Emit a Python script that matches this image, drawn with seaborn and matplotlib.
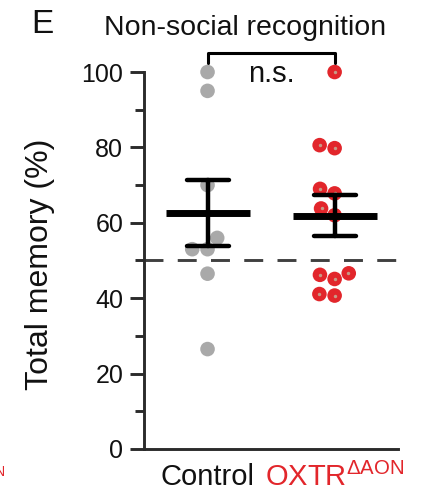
import numpy as np
import pandas as pd
import matplotlib
matplotlib.use("Agg")
import matplotlib.pyplot as plt
from matplotlib.ticker import MultipleLocator
import seaborn as sns

# Total memory (%) per animal
groups = ["Control", "OXTR"]
control_memory = [100, 95, 70, 56, 53, 53, 46.5, 26.5]
oxtr_memory = [100, 80.6, 79.8, 69, 67.8, 63.8, 62, 46.6, 46.2, 45.1, 41.1, 40.7]
tick_labels = ["Control", r"OXTR$^{\mathregular{\Delta AON}}$"]
y_ticks = [0, 20, 40, 60, 80, 100]
chance_level = 50

GRAY = "#a9a9a9"
RED = "#e2262b"
AXIS = "#2b2b2b"

df = pd.DataFrame({
    "group": [groups[0]] * len(control_memory) + [groups[1]] * len(oxtr_memory),
    "memory": control_memory + oxtr_memory,
})

sns.set_style("ticks")
plt.rcParams["font.family"] = ["Liberation Sans", "DejaVu Sans"]
plt.rcParams["mathtext.default"] = "regular"

fig = plt.figure(figsize=(4.39, 4.96), dpi=100)
ax = fig.add_axes([0.328, 0.0948, 0.579, 0.760])

# individual animals
sns.swarmplot(data=df, x="group", y="memory", hue="group",
              palette={groups[0]: GRAY, groups[1]: RED}, size=10.5,
              linewidth=0, legend=False, ax=ax, zorder=2, clip_on=False)

# light centre on the knockout dots
fig.canvas.draw()
red_dots = ax.collections[1]
cx, cy = red_dots.get_offsets().T
ax.scatter(cx, cy, s=6, color="#c79a86", linewidth=0, zorder=3, clip_on=False)

# mean +/- SEM
sns.pointplot(data=df, x="group", y="memory", errorbar="se", capsize=0.33,
              color="black", marker="_", markersize=60, markeredgewidth=5,
              linestyle="none", err_kws={"linewidth": 3.2, "zorder": 4},
              ax=ax, zorder=5)

# chance level
ax.axhline(chance_level, color="#404040", lw=2.1, dashes=(6.5, 4.9), zorder=1)

ax.set_xlim(-0.5, 1.5)
ax.set_ylim(0, 100)
ax.set_yticks(y_ticks)
ax.yaxis.set_minor_locator(MultipleLocator(10))
ax.set_xticks([0, 1])
ax.set_xticklabels(tick_labels)

ax.tick_params(axis="y", which="major", length=10, width=2.1, color=AXIS,
               labelsize=18, pad=5, labelcolor="#111111")
ax.tick_params(axis="y", which="minor", length=6.5, width=2.1, color=AXIS)
ax.tick_params(axis="x", length=0, labelsize=21, pad=10, labelcolor="#111111")
ax.get_xticklabels()[1].set_color(RED)

for side in ("top", "right"):
    ax.spines[side].set_visible(False)
for side in ("left", "bottom"):
    ax.spines[side].set_linewidth(2.1)
    ax.spines[side].set_color(AXIS)

ax.set_xlabel("")
ax.set_ylabel("Total memory (%)", fontsize=23, color="#111111")
ax.yaxis.set_label_coords(-0.35, 0.49)

# significance bracket
ax.plot([0, 0, 1, 1], [102.5, 105.1, 105.1, 102.5], color="black", lw=2.2,
        clip_on=False, zorder=6)
ax.text(0.5, 97.4, "n.s.", ha="center", va="baseline", fontsize=21,
        color="#111111")

fig.text(0.558, 0.929, "Non-social recognition", ha="center", va="baseline",
         fontsize=20.5, color="#111111")
fig.text(0.072, 0.933, "E", ha="left", va="baseline", fontsize=24,
         color="#111111")
fig.text(0.012, 1 - 476 / 496, "ΔAON", ha="right", va="baseline",
         fontsize=10, color=RED)

fig.savefig("out.png", dpi=100)
